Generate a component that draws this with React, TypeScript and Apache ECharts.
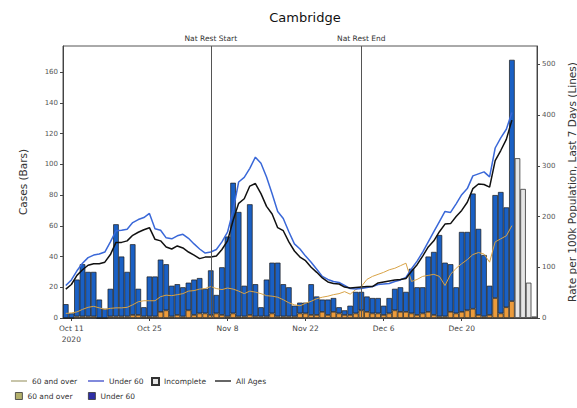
import React, { useEffect, useRef } from 'react';
import * as echarts from 'echarts';

// Day categories: Oct 10 2020 .. Jan 2 2021
const START = Date.UTC(2020, 9, 10);
const categories: string[] = Array.from({ length: 85 }, (_, i) =>
  new Date(START + i * 86400000).toISOString().slice(0, 10)
);

const tickLabels: Record<string, string> = {
  '2020-10-11': 'Oct 11\n2020',
  '2020-10-25': 'Oct 25',
  '2020-11-08': 'Nov 8',
  '2020-11-22': 'Nov 22',
  '2020-12-06': 'Dec 6',
  '2020-12-20': 'Dec 20',
};

const natRestStart = '2020-11-05';
const natRestEnd = '2020-12-02';

// Cases, 60 and over (bars)
const over60Cases = [
  0, 0, 1, 1, 1, 1, 0, 0, 1, 1, 1, 1, 2, 2, 1, 1, 1, 4, 5, 1,
  2, 1, 5, 2, 3, 3, 2, 3, 2, 1, 3, 1, 1, 2, 1, 1, 1, 3, 1, 1,
  1, 1, 3, 3, 2, 2, 4, 2, 4, 3, 2, 2, 3, 5, 4, 3, 3, 2, 3, 5,
  4, 4, 3, 2, 3, 4, 2, 1, 1, 4, 3, 4, 5, 6, 2, 1, 2, 13, 3, 7,
  11,
];
// Cases, under 60 (bars)
const under60Cases = [
  9, 3, 24, 34, 29, 29, 12, 6, 18, 60, 39, 29, 46, 17, 6, 26, 26, 34, 30, 20,
  20, 19, 18, 23, 23, 16, 29, 12, 31, 52, 85, 68, 20, 72, 21, 6, 24, 33, 35, 21,
  19, 7, 7, 7, 20, 12, 8, 10, 9, 4, 3, 6, 14, 12, 10, 10, 10, 6, 10, 14,
  16, 13, 29, 18, 17, 36, 41, 53, 35, 31, 17, 52, 51, 75, 56, 40, 19, 67, 79, 65,
  157,
];
// Incomplete days (Dec 30 .. Jan 2)
const incompleteCases = [104, 84, 23, 1];

// Rates per 100k, last 7 days (lines)
const rate60Over = [
  9, 10, 12, 17, 21, 23, 20, 17, 19, 20, 20, 21, 26, 32, 34, 34, 34, 42, 45, 44,
  46, 48, 53, 54, 57, 58, 62, 58, 56, 59, 57, 53, 48, 53, 51, 48, 44, 43, 41, 36,
  30, 26, 24, 29, 33, 38, 41, 43, 46, 48, 52, 47, 56, 62, 76, 82, 86, 90, 95, 98,
  103, 108, 72, 76, 82, 84, 86, 82, 64, 86, 98, 107, 115, 125, 129, 126, 110, 150, 156, 162,
  182,
];
const rateUnder60 = [
  64, 75, 93, 108, 119, 124, 126, 130, 150, 172, 173, 175, 188, 194, 198, 206, 176, 173, 158, 156,
  162, 165, 157, 146, 136, 128, 130, 135, 150, 169, 212, 268, 277, 295, 317, 305, 278, 245, 210, 196,
  170, 146, 136, 122, 110, 96, 82, 76, 72, 70, 64, 58, 57, 58, 60, 62, 66, 67, 68, 72,
  75, 80, 97, 112, 130, 150, 170, 190, 210, 208, 225, 243, 255, 280, 284, 288, 278, 335, 355, 372,
  405,
];
const rateAllAges = [
  57, 66, 84, 95, 104, 107, 107, 110, 125, 149, 149, 152, 163, 169, 174, 178, 155, 152, 140, 136,
  142, 138, 130, 124, 117, 120, 120, 122, 135, 152, 192, 226, 235, 260, 265, 245, 220, 205, 178, 172,
  150, 132, 120, 113, 100, 90, 79, 71, 68, 67, 61, 59, 60, 61, 62, 62, 69, 71, 73, 75,
  76, 78, 92, 105, 122, 140, 152, 170, 185, 186, 200, 212, 228, 255, 264, 263, 258, 310, 330, 352,
  390,
];

const FONT = 'DejaVu Sans';
const BAR_EDGE = '#1a1a1a';
const LINE_ICON = 'path://M0,0h20v1.6h-20z';
const BOX_ICON = 'path://M0,0h10v10h-10z';

const legendNames: Record<string, string> = {
  l60: '60 and over',
  lu60: 'Under 60',
  inc: 'Incomplete',
  all: 'All Ages',
  b60: '60 and over',
  bu60: 'Under 60',
};

function pad<T>(arr: T[], n: number): (T | '-')[] {
  const out: (T | '-')[] = arr.slice();
  while (out.length < n) out.push('-');
  return out;
}

export default function App() {
  const ref = useRef<HTMLDivElement>(null);
  useEffect(() => {
    const chart = echarts.init(ref.current!, undefined, { renderer: 'svg' });
    const n = categories.length;
    const incData: (number | '-')[] = categories.map(() => '-' as const);
    incompleteCases.forEach((v, k) => {
      incData[n - incompleteCases.length + k] = v;
    });
    const tickIdx = new Set(
      categories.map((c, i) => (tickLabels[c] ? i : -1)).filter((i) => i >= 0)
    );
    const legendText = { fontFamily: FONT, fontSize: 7.5, color: '#333' };
    const mkLegend = (left: number, top: number, w: number, item: any) => ({
      left,
      top,
      padding: 0,
      itemWidth: w,
      itemHeight: 7,
      textStyle: legendText,
      formatter: (name: string) => legendNames[name] || name,
      data: [item],
    });
    const option: any = {
      animation: false,
      textStyle: { fontFamily: FONT },
      title: {
        text: 'Cambridge',
        left: 300,
        top: 6,
        textAlign: 'center',
        textStyle: { fontFamily: FONT, fontSize: 13, fontWeight: 'normal', color: '#111' },
      },
      grid: {
        left: 63,
        right: 40,
        top: 46,
        bottom: 90,
        containLabel: false,
        outerBoundsMode: 'none',
        show: true,
        borderColor: '#555',
        borderWidth: 1,
      },
      legend: [
        mkLegend(11, 377, 16, { name: 'l60', icon: LINE_ICON, itemStyle: { color: '#a9a57a', borderWidth: 0 } }),
        mkLegend(88, 377, 16, { name: 'lu60', icon: LINE_ICON, itemStyle: { color: '#3a48c8', borderWidth: 0 } }),
        mkLegend(151, 377, 7, { name: 'inc', icon: BOX_ICON }),
        mkLegend(215, 377, 16, { name: 'all', icon: LINE_ICON, itemStyle: { color: '#111', borderWidth: 0 } }),
        mkLegend(15, 392, 7, { name: 'b60', icon: BOX_ICON, itemStyle: { color: '#b3b06c', borderColor: '#333', borderWidth: 0.8 } }),
        mkLegend(88, 392, 7, { name: 'bu60', icon: BOX_ICON, itemStyle: { color: '#2e2ea6', borderColor: '#333', borderWidth: 0.8 } }),
      ],
      xAxis: {
        type: 'category',
        data: categories,
        boundaryGap: true,
        axisLine: { lineStyle: { color: '#444', width: 1 } },
        axisTick: {
          show: true,
          alignWithLabel: true,
          length: 3,
          interval: (i: number) => tickIdx.has(i),
          lineStyle: { color: '#444' },
        },
        axisLabel: {
          interval: (i: number) => tickIdx.has(i),
          formatter: (v: string) => tickLabels[v] || '',
          fontSize: 7.5,
          color: '#444',
          margin: 5,
          lineHeight: 11,
        },
        splitLine: { show: false },
      },
      yAxis: [
        {
          type: 'value',
          min: 0,
          max: 177,
          interval: 20,
          name: 'Cases (Bars)',
          nameLocation: 'middle',
          nameGap: 35,
          nameTextStyle: { fontFamily: FONT, fontSize: 10.5, color: '#333' },
          axisLine: { show: true, lineStyle: { color: '#444' } },
          axisTick: { show: true, length: 3, lineStyle: { color: '#444' } },
          axisLabel: { fontSize: 7, color: '#555', margin: 5, showMaxLabel: false },
          splitLine: { show: false },
        },
        {
          type: 'value',
          min: 0,
          max: 536,
          interval: 100,
          name: 'Rate per 100k Population, Last 7 Days (Lines)',
          nameLocation: 'middle',
          nameGap: 26,
          nameRotate: 90,
          nameTextStyle: { fontFamily: FONT, fontSize: 10.5, color: '#333' },
          axisLine: { show: true, lineStyle: { color: '#444' } },
          axisTick: { show: true, length: 3, lineStyle: { color: '#444' } },
          axisLabel: { fontSize: 7, color: '#555', margin: 5, showMaxLabel: false },
          splitLine: { show: false },
        },
      ],
      series: [
        {
          name: 'b60',
          type: 'bar',
          stack: 'cases',
          barWidth: '100%',
          data: pad(over60Cases, n),
          itemStyle: { color: '#eb9b3c', borderColor: BAR_EDGE, borderWidth: 0.7 },
        },
        {
          name: 'bu60',
          type: 'bar',
          stack: 'cases',
          barWidth: '100%',
          data: pad(under60Cases, n),
          itemStyle: { color: '#1a60c4', borderColor: BAR_EDGE, borderWidth: 0.7 },
          markLine: {
            silent: true,
            symbol: ['none', 'none'],
            lineStyle: { color: '#555', width: 1, type: 'solid' },
            label: {
              show: true,
              position: 'end',
              distance: 4,
              fontFamily: FONT,
              fontSize: 7.5,
              color: '#333',
              formatter: (p: any) => p.name,
            },
            data: [
              { name: 'Nat Rest Start', xAxis: natRestStart },
              { name: 'Nat Rest End', xAxis: natRestEnd },
            ],
          },
        },
        {
          name: 'inc',
          type: 'bar',
          stack: 'cases',
          barWidth: '100%',
          data: incData,
          itemStyle: { color: '#e6e6e6', borderColor: '#333', borderWidth: 0.8 },
        },
        {
          name: 'l60',
          type: 'line',
          yAxisIndex: 1,
          data: pad(rate60Over, n),
          symbol: 'none',
          lineStyle: { color: '#d8a347', width: 1 },
          itemStyle: { color: '#d8a347' },
        },
        {
          name: 'lu60',
          type: 'line',
          yAxisIndex: 1,
          data: pad(rateUnder60, n),
          symbol: 'none',
          lineStyle: { color: '#3a68d8', width: 1.5 },
          itemStyle: { color: '#3a68d8' },
        },
        {
          name: 'all',
          type: 'line',
          yAxisIndex: 1,
          data: pad(rateAllAges, n),
          symbol: 'none',
          lineStyle: { color: '#111', width: 1.5 },
          itemStyle: { color: '#111' },
        },
      ],
    };
    chart.setOption(option);
    return () => chart.dispose();
  }, []);
  return (
    <div
      ref={ref}
      style={{ position: 'fixed', left: 0, top: 0, width: 577, height: 408, background: '#fff' }}
    />
  );
}
